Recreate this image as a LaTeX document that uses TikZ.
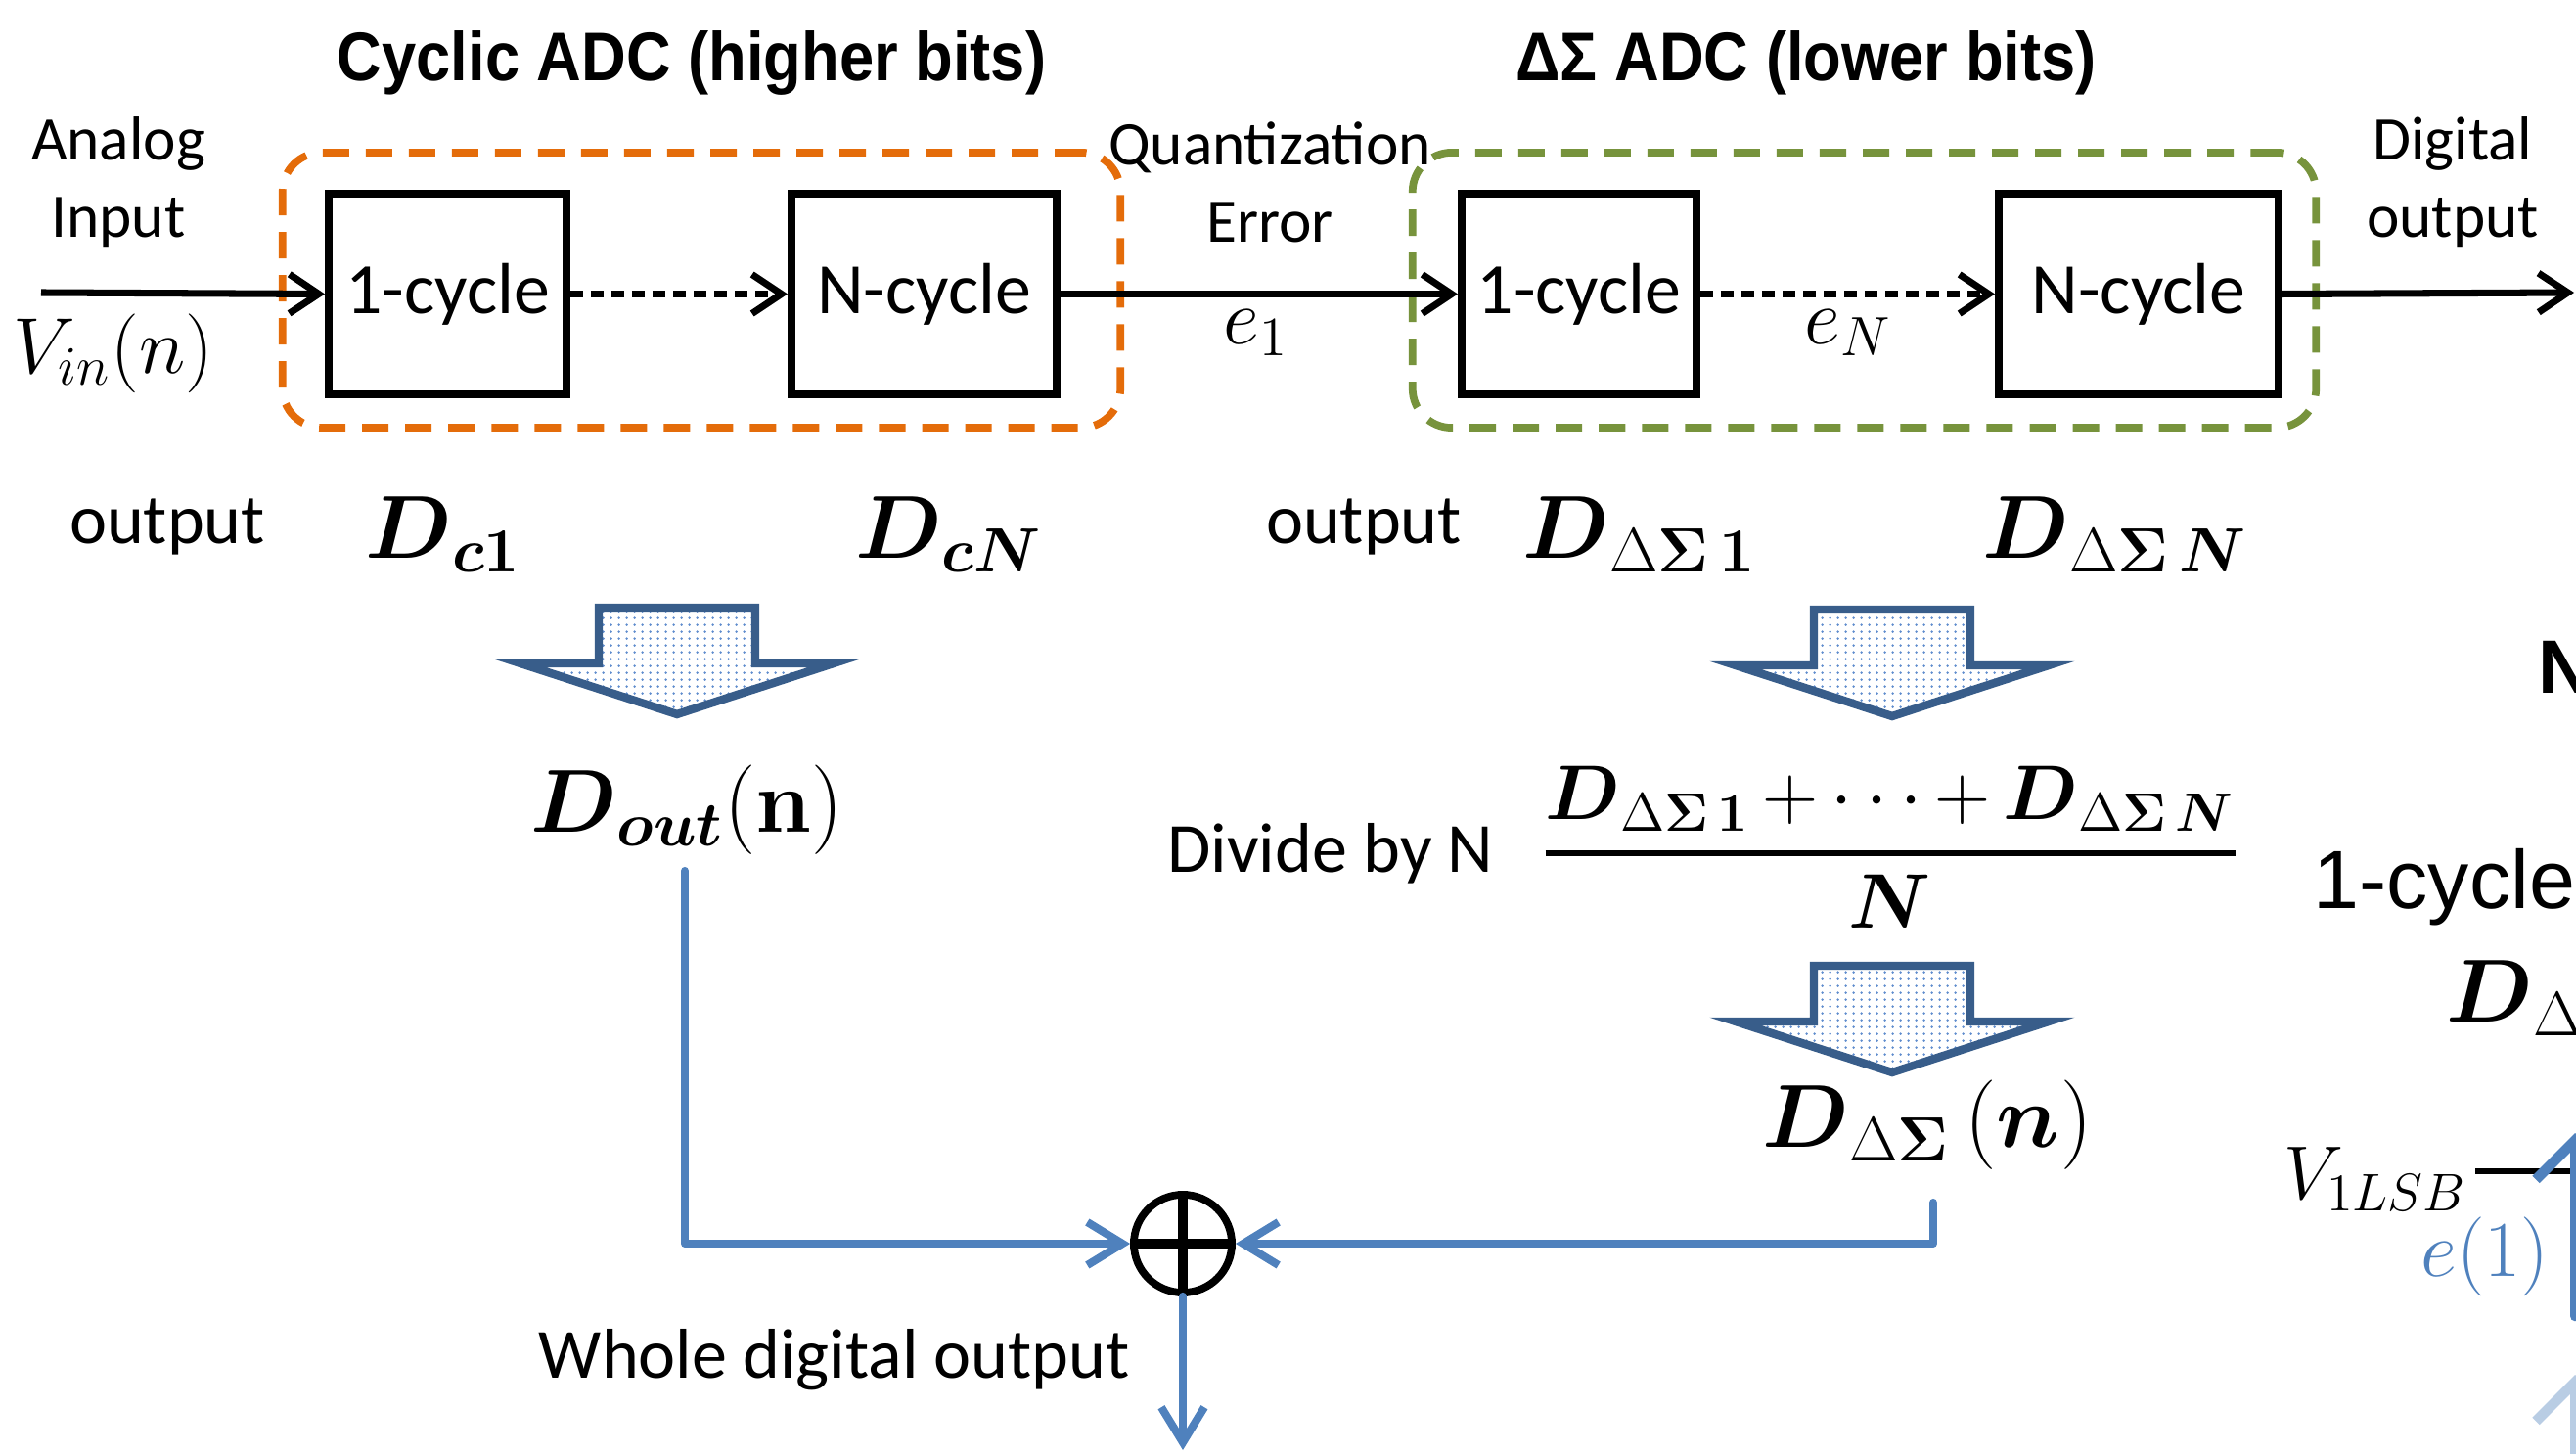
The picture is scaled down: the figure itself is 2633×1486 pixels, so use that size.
\RequirePackage{fix-cm}
\documentclass[tikz,border=0pt]{standalone}
\usepackage{amsmath}
\usepackage[no-math]{fontspec}
\setmainfont{Carlito}
\newfontfamily\arialfont{Liberation Sans}
\newfontfamily\arialnarrow[FakeStretch=0.9]{Liberation Sans}
\usetikzlibrary{arrows.meta,patterns}
\pgfdeclarepatternformonly{bigdots}{\pgfpointorigin}{\pgfpoint{2.3pt}{2.1pt}}{\pgfpoint{2.3pt}{2.1pt}}{\pgfpathcircle{\pgfpoint{1.15pt}{1.05pt}}{0.42pt}\pgfusepath{fill}}
\definecolor{orng}{RGB}{228,108,10}
\definecolor{olive}{RGB}{119,147,60}
\definecolor{lnblue}{RGB}{79,129,189}
\definecolor{arredge}{RGB}{56,93,138}
\definecolor{dotblue}{RGB}{95,140,205}
\definecolor{paleblue}{RGB}{185,205,228}
\tikzset{
  lbl/.style={font=\fontsize{18}{22.5}\selectfont, align=center, inner sep=0pt},
  lblbig/.style={font=\fontsize{20.5}{24}\selectfont, inner sep=0pt},
  ttl/.style={font=\arialnarrow\bfseries\fontsize{20}{24}\selectfont, inner sep=0pt},
  mthA/.style={font=\fontsize{23}{27}\selectfont, inner sep=0pt},
  mthB/.style={font=\fontsize{26}{30}\selectfont, inner sep=0pt},
  mthC/.style={font=\fontsize{22.5}{27}\selectfont, inner sep=0pt},
  cyc/.style={draw=black, line width=2.2pt, minimum height=2.05cm, inner sep=0pt,
     font=\fontsize{21}{24}\selectfont},
  grp/.style={line width=2.2pt, dash pattern=on 0.27cm off 0.17cm, rounded corners=0.4cm,
     minimum height=2.81cm, inner sep=0pt},
  arr/.style={black, line width=2pt, -{Straight Barb[length=0.3cm,width=0.4cm]}},
  darr/.style={arr, dash pattern=on 0.13cm off 0.08cm},
  barr/.style={lnblue, line width=2.3pt, line cap=round, line join=round,
     -{Straight Barb[length=0.36cm,width=0.44cm]}},
  blockarrow/.style={draw=arredge, line width=2.4pt, line join=miter, pattern=bigdots, pattern color=dotblue}
}
\newcommand\blkarr[2]{\path[blockarrow] (#1-80,#2-113) -- (#1+80,#2-113) -- (#1+80,#2-56) -- (#1+160,#2-56) -- (#1,#2-4) -- (#1-160,#2-56) -- (#1-80,#2-56) -- cycle;}
\begin{document}
\begin{tikzpicture}[x=0.01cm,y=-0.01cm]
\useasboundingbox (0,0) rectangle (2633,1486);
\clip (0,0) rectangle (2633,1486);

% titles
\node[ttl] (t1) at (707,64) {Cyclic ADC (higher bits)};
\node[ttl] (t2) at (1846,64) {ΔΣ ADC (lower bits)};

% group boxes
\node[grp, draw=orng, minimum width=8.56cm] (cycgrp) at (717,296.5) {};
\node[grp, draw=olive, minimum width=9.23cm] (dsgrp) at (1905.5,296.5) {};

% blocks
\node[cyc, minimum width=2.43cm] (c1) at (457.5,300.5) {1-cycle};
\node[cyc, minimum width=2.71cm] (cN) at (944.5,300.5) {N-cycle};
\node[cyc, minimum width=2.40cm] (d1) at (1614,300.5) {1-cycle};
\node[cyc, minimum width=2.86cm] (dN) at (2186,300.5) {N-cycle};

% top labels
\node[lbl] (analog) at (121,186) {Analog\\Input};
\node[mthA] (vin) at (116,361) {$V_{in}(n)$};
\node[lbl] (qerr) at (1298,186) {Quantization\\Error};
\node[mthA] (e1) at (1284,340) {$e_1$};
\node[mthA] (eN) at (1889,340) {$e_N$};
\node[lbl] (dout) at (2507,186) {Digital\\output};

% connectors top row
\coordinate (vstart) at (42,299);
\coordinate (oend) at (2631,299);
\draw[arr] (vstart) -- (c1.west);
\draw[darr] (c1.east) -- (cN.west);
\draw[arr] (cN.east) -- (d1.west);
\draw[darr] (d1.east) -- (dN.west);
\draw[arr] (dN.east) -- (oend);

% outputs row
\node[lblbig] (o1) at (171,539) {output};
\node[mthB] (Dc1) at (453,546) {$\boldsymbol{D}_{\boldsymbol{c}\mathbf{1}}$};
\node[mthB] (DcN) at (970,546) {$\boldsymbol{D}_{\boldsymbol{cN}}$};
\node[lblbig] (o2) at (1394,539) {output};
\node[mthB] (Dd1) at (1676,546) {$\boldsymbol{D}_{\Delta\boldsymbol{\Sigma}\,\mathbf{1}}$};
\node[mthB] (DdN) at (2162,546) {$\boldsymbol{D}_{\Delta\boldsymbol{\Sigma}\,\boldsymbol{N}}$};

% block arrows
\blkarr{692}{734}
\blkarr{1934}{736}
\blkarr{1934}{1100}

% lower formulas
\node[mthB] (Dout) at (702,828) {$\boldsymbol{D}_{\boldsymbol{out}}(\mathbf{n})$};
\node[lblbig] (divN) at (1360,872) {Divide by N};
\node[mthC] (frac) at (1932,866) {$\genfrac{}{}{1.8pt}{0}{\boldsymbol{D}_{\Delta\boldsymbol{\Sigma}\,\mathbf{1}}\,{+}\,{\cdots}\,{+}\,\boldsymbol{D}_{\Delta\boldsymbol{\Sigma}\,\boldsymbol{N}}}{\boldsymbol{N}}$};
\node[mthB] (Dds) at (1970,1150) {$\boldsymbol{D}_{\Delta\boldsymbol{\Sigma}}\,(\boldsymbol{n})$};

% summing junction
\node[circle, draw=black, line width=2.2pt, minimum size=1.0cm, inner sep=0pt] (sum) at (1209,1271) {};
\draw[line width=2.8pt] (sum.north) -- (sum.south);
\draw[line width=2.8pt] (sum.west) -- (sum.east);
\node[lblbig] (whole) at (853,1390) {Whole digital output};

\coordinate (doutb) at (700,890);
\coordinate (ddsb) at (1976,1229);
\coordinate (wend) at (1209,1482);
\draw[barr] (doutb) |- (sum.west);
\draw[barr] (ddsb) |- (sum.east);
\draw[barr] (sum.south) -- (wend);

% cut-off content at the right edge
\node[inner sep=0pt, font=\arialfont\bfseries\fontsize{22}{26}\selectfont, anchor=west] (Nr) at (2594,682) {N};
\node[anchor=west, inner sep=0pt, font=\arialfont\fontsize{24}{28}\selectfont] (cyr) at (2364,907) {1-cycle};
\node[mthB, anchor=west] (Dr) at (2500,1020) {$\boldsymbol{D}_{\Delta\boldsymbol{\Sigma}}$};
\node[font=\fontsize{22}{26}\selectfont, inner sep=0pt, anchor=east] (vlsb) at (2522,1205) {$V_{1LSB}$};
\node[mthA, text=lnblue] (e1r) at (2540,1284) {$e(1)$};
\coordinate (lsbend) at (2633,1197);
\draw[line width=1.6pt] (vlsb.east) ++(8,-8) coordinate (lsbst) -- (lsbend);
\coordinate (bstart) at (2632,1345);
\coordinate (btip) at (2632,1158);
\draw[lnblue, line width=3pt, line cap=round, -{Straight Barb[length=0.4cm,width=0.8cm]}] (bstart) -- (btip);
\coordinate (pstart) at (2632,1500);
\coordinate (ptip) at (2632,1405);
\draw[paleblue, line width=3pt, line cap=round, -{Straight Barb[length=0.4cm,width=0.8cm]}] (pstart) -- (ptip);
\end{tikzpicture}
\end{document}
